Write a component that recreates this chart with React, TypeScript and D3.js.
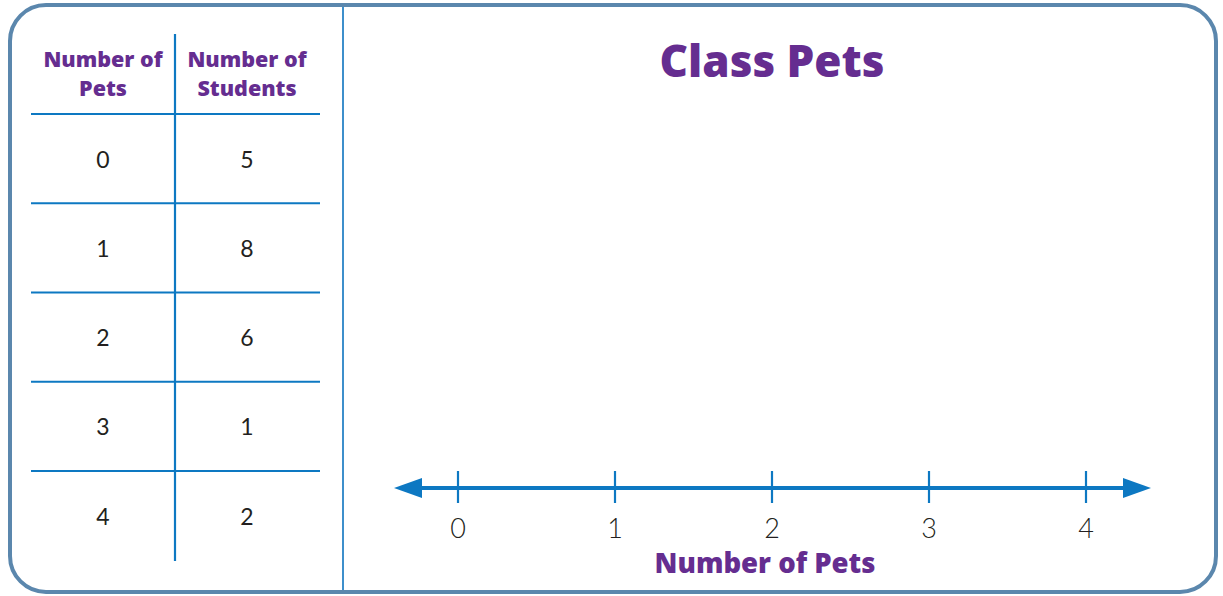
import React from "react";
import * as d3 from "d3";

const petCounts = ["0", "1", "2", "3", "4"];
const studentCounts = [5, 8, 6, 1, 2];
const axisTicks = [0, 1, 2, 3, 4];
const title = "Class Pets";
const axisTitle = "Number of Pets";
const headerPets = ["Number of", "Pets"];
const headerStudents = ["Number of", "Students"];

const W = 1223;
const H = 596;
const PURPLE = "#652d90";
const BLUE = "#0d78c2";
const FRAME = "#5b87ad";
const HEADFONT = "'Open Sans', Lato, sans-serif";

export default function App() {
  const x = d3.scaleLinear().domain([0, 4]).range([458, 1086]);
  const axisY = 488;
  const rowStep = (471 - 114) / 4;
  const rowLines = petCounts.map((_, i) => 114 + i * rowStep);

  return (
    <div style={{ position: "absolute", left: 0, top: 0 }}>
      <svg width={W} height={H} style={{ display: "block" }}>
        <rect x={0} y={0} width={W} height={H} fill="#ffffff" />
        <rect x={10} y={5} width={1206} height={587} rx={36} ry={36} fill="none" stroke={FRAME} strokeWidth={4} />
        <line x1={343} x2={343} y1={7} y2={590} stroke="#3d8fcb" strokeWidth={2} />

        {/* table */}
        <line x1={175} x2={175} y1={34} y2={561} stroke={BLUE} strokeWidth={2.2} />
        {rowLines.map((y, i) => (
          <line key={i} x1={31} x2={320} y1={y} y2={y} stroke={BLUE} strokeWidth={2.2} />
        ))}
        {headerPets.map((t, i) => (
          <text key={"hp" + i} x={103} y={67 + i * 29} textAnchor="middle" fontFamily={HEADFONT} fontWeight={800} fontSize={21.5} fill={PURPLE}>{t}</text>
        ))}
        {headerStudents.map((t, i) => (
          <text key={"hs" + i} x={247} y={67 + i * 29} textAnchor="middle" fontFamily={HEADFONT} fontWeight={800} fontSize={21.5} fill={PURPLE}>{t}</text>
        ))}
        {petCounts.map((p, i) => {
          const cy = 114 + i * rowStep + rowStep / 2;
          return (
            <g key={"r" + i}>
              <text x={103} y={cy + 9} textAnchor="middle" fontFamily="Lato, sans-serif" fontSize={23} fill="#231f20">{p}</text>
              <text x={247} y={cy + 9} textAnchor="middle" fontFamily="Lato, sans-serif" fontSize={23} fill="#231f20">{studentCounts[i]}</text>
            </g>
          );
        })}

        {/* title */}
        <text x={772} y={77} textAnchor="middle" fontFamily={HEADFONT} fontWeight={800} fontSize={44} fill={PURPLE}>{title}</text>

        {/* number line */}
        <line x1={410} x2={1136} y1={axisY} y2={axisY} stroke={BLUE} strokeWidth={4} />
        <path d={`M394,${axisY} L422,${axisY - 10} L422,${axisY + 10} Z`} fill={BLUE} />
        <path d={`M1151,${axisY} L1123,${axisY - 10} L1123,${axisY + 10} Z`} fill={BLUE} />
        {axisTicks.map((t) => (
          <g key={"t" + t}>
            <line x1={x(t)} x2={x(t)} y1={471} y2={503} stroke={BLUE} strokeWidth={2.2} />
            <text x={x(t)} y={538} textAnchor="middle" fontFamily="Lato, sans-serif" fontWeight={300} fontSize={27} fill="#231f20">{t}</text>
          </g>
        ))}
        <text x={765} y={573} textAnchor="middle" fontFamily={HEADFONT} fontWeight={800} fontSize={27.5} fill={PURPLE}>{axisTitle}</text>
      </svg>
    </div>
  );
}
